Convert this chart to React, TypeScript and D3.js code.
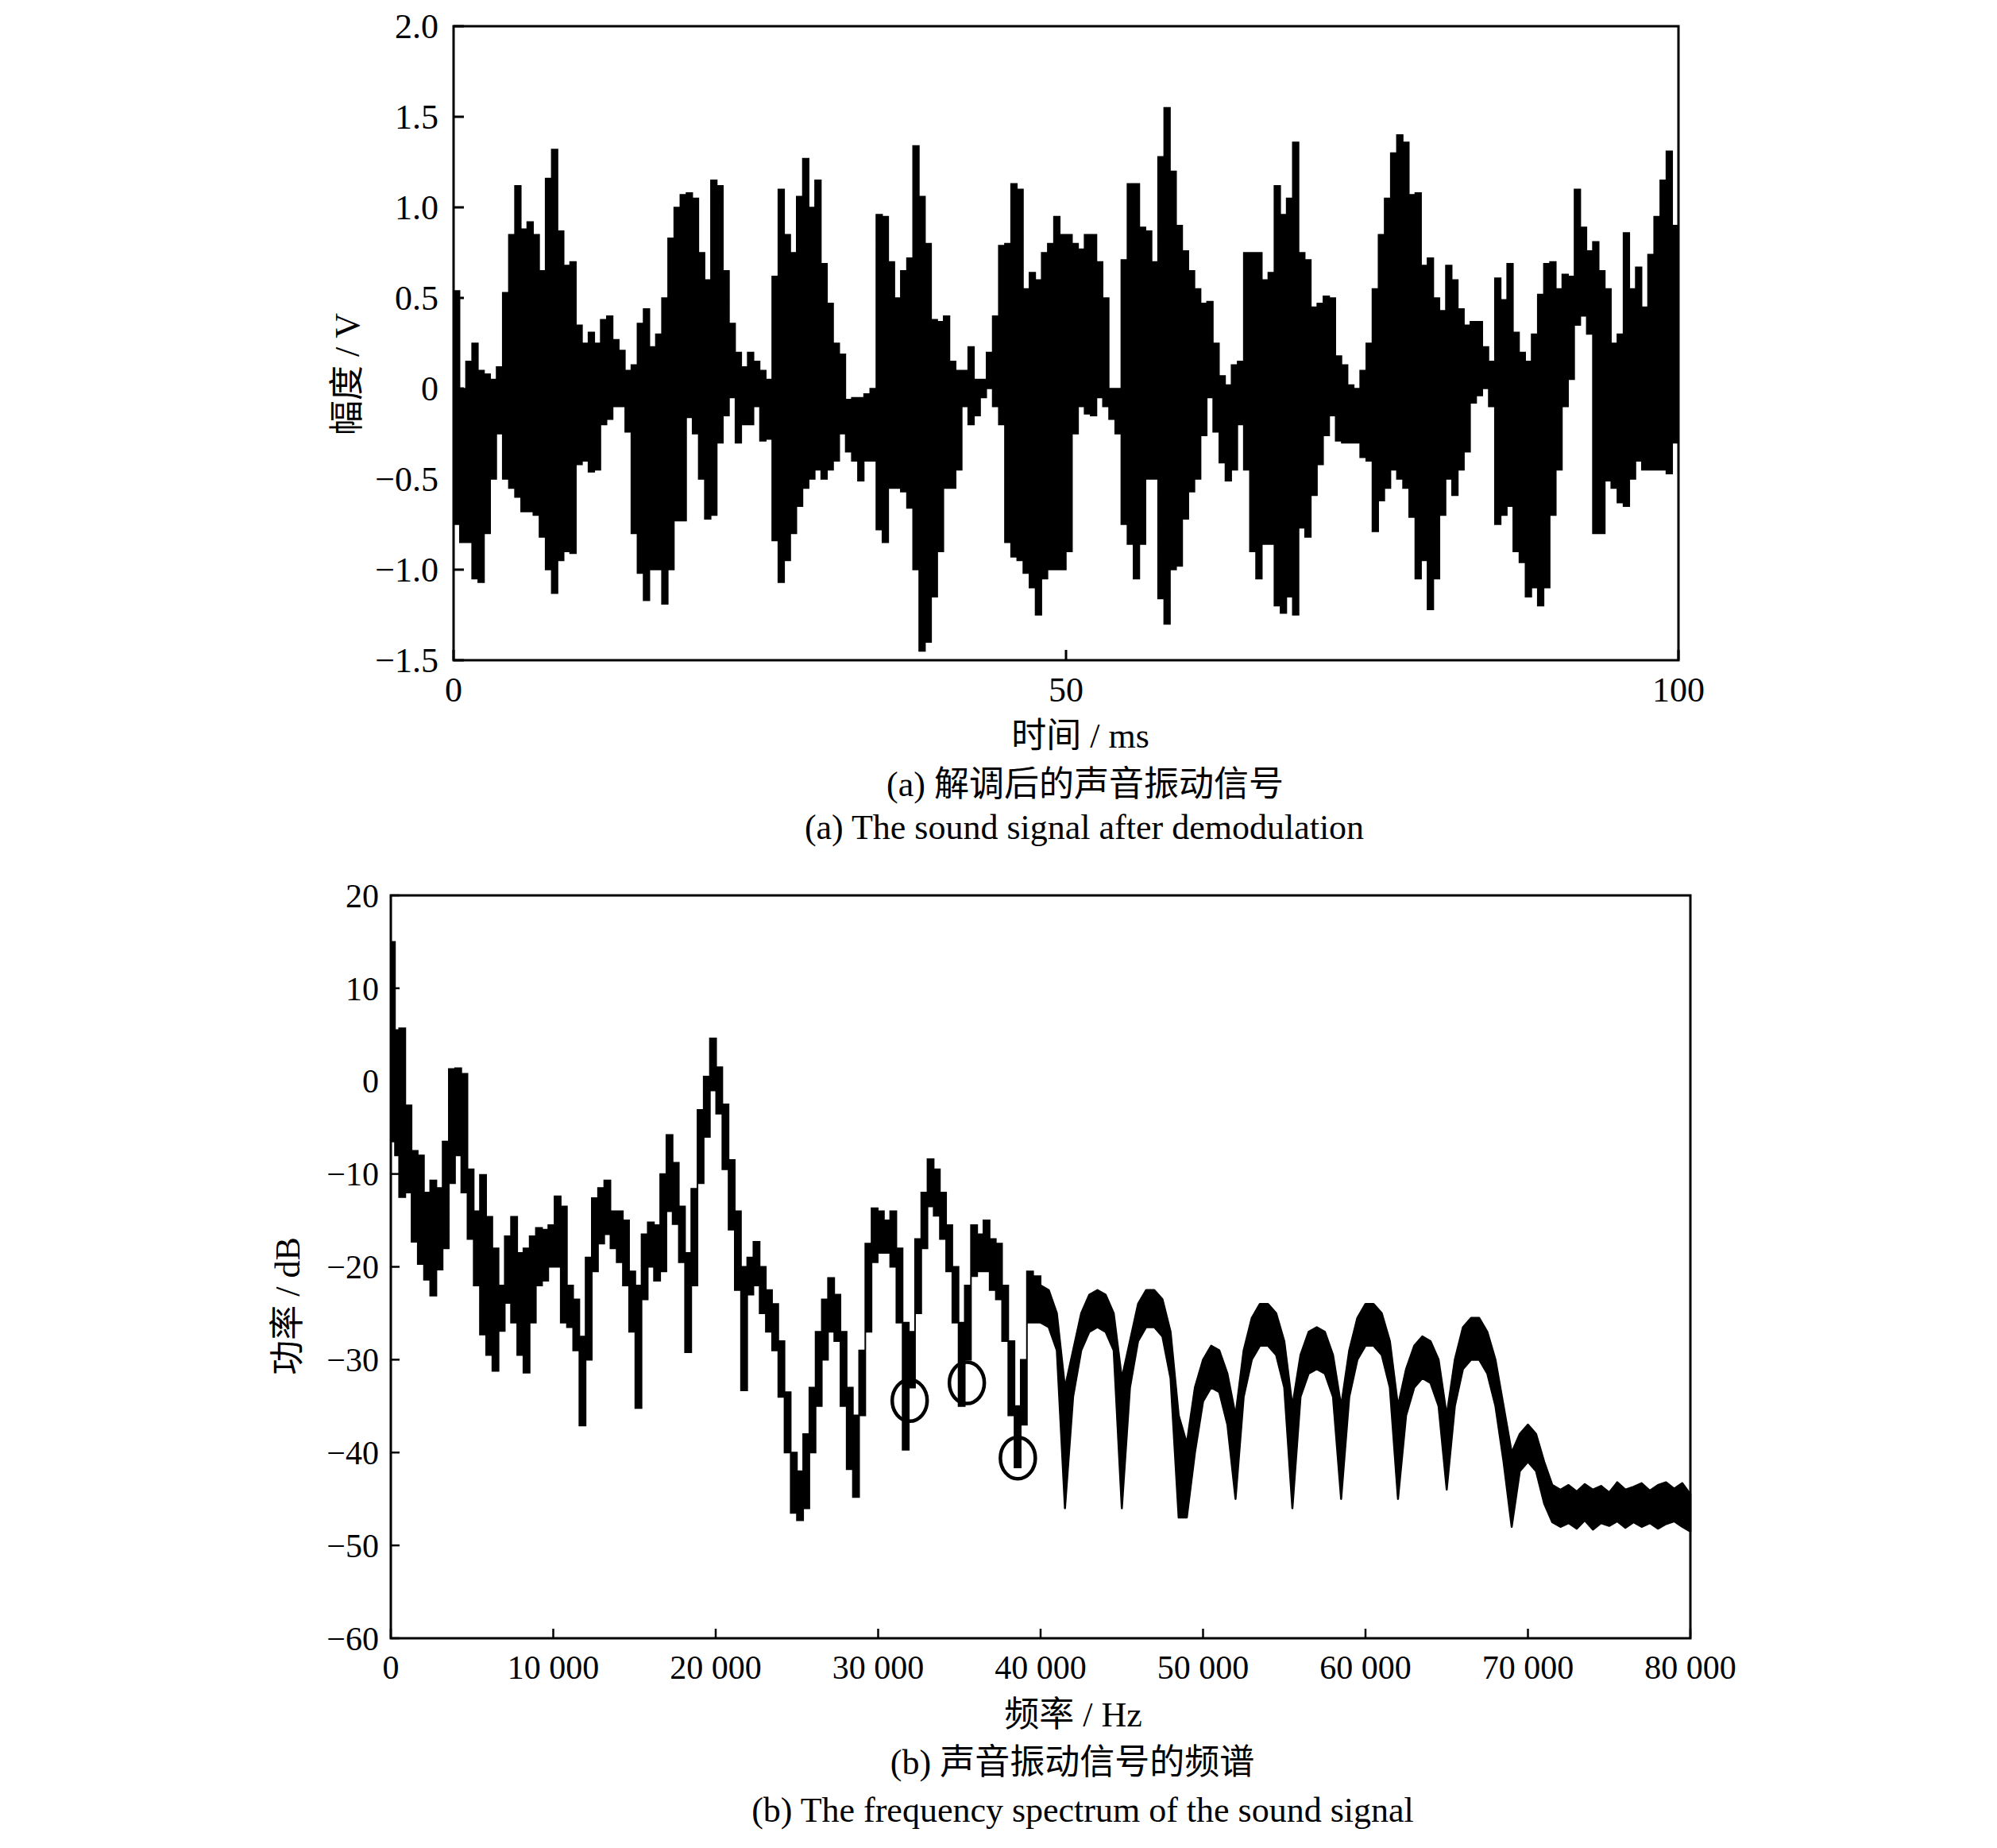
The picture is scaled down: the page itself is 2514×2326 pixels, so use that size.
import React from "react"
import * as d3 from "d3"

// (a) demodulated sound signal: upper / lower envelope per 0.5 ms bin, in V
const sigStepMs = 0.5
const sigHi = [
  0.54, 0.0, 0.15, 0.25, 0.1, 0.08, 0.05, 0.12, 0.53, 0.85,
  1.12, 0.88, 0.92, 0.85, 0.65, 1.16, 1.32, 0.87, 0.68, 0.7,
  0.35, 0.25, 0.31, 0.25, 0.38, 0.4, 0.27, 0.21, 0.1, 0.13,
  0.36, 0.44, 0.23, 0.3, 0.5, 0.83, 1.0, 1.07, 1.08, 1.05,
  0.75, 0.6, 1.15, 1.12, 0.65, 0.36, 0.2, 0.12, 0.2, 0.15,
  0.1, 0.05, 0.62, 1.1, 0.85, 0.75, 1.06, 1.27, 1.0, 1.15,
  0.69, 0.47, 0.25, 0.19, -0.06, -0.05, -0.05, -0.03, 0.0, 0.96,
  0.95, 0.7, 0.5, 0.65, 0.72, 1.34, 1.06, 0.8, 0.38, 0.37,
  0.4, 0.15, 0.1, 0.1, 0.23, 0.05, 0.05, 0.2, 0.4, 0.79,
  0.8, 1.13, 1.1, 0.55, 0.64, 0.6, 0.75, 0.8, 0.95, 0.85,
  0.85, 0.8, 0.77, 0.85, 0.85, 0.7, 0.5, 0.0, 0.0, 0.71,
  1.13, 1.13, 0.89, 0.87, 0.7, 1.28, 1.55, 1.2, 0.9, 0.76,
  0.65, 0.55, 0.47, 0.48, 0.25, 0.07, 0.02, 0.13, 0.15, 0.75,
  0.75, 0.75, 0.6, 0.64, 1.12, 0.96, 1.05, 1.36, 0.75, 0.71,
  0.45, 0.47, 0.51, 0.5, 0.18, 0.13, 0.02, 0.0, 0.1, 0.25,
  0.55, 0.85, 1.05, 1.3, 1.4, 1.36, 1.07, 1.08, 0.68, 0.72,
  0.5, 0.43, 0.68, 0.6, 0.44, 0.35, 0.37, 0.37, 0.23, 0.15,
  0.61, 0.49, 0.69, 0.31, 0.2, 0.15, 0.3, 0.52, 0.69, 0.7,
  0.55, 0.63, 0.62, 1.1, 0.89, 0.76, 0.81, 0.65, 0.55, 0.25,
  0.3, 0.86, 0.55, 0.67, 0.45, 0.74, 0.95, 1.15, 1.31, 0.9,
]
const sigLo = [
  -0.75, -0.85, -0.85, -1.05, -1.07, -0.8, -0.5, -0.25, -0.5, -0.55,
  -0.6, -0.68, -0.68, -0.7, -0.82, -1.0, -1.13, -0.95, -0.9, -0.91,
  -0.42, -0.4, -0.46, -0.45, -0.2, -0.17, -0.1, -0.1, -0.24, -0.8,
  -1.02, -1.17, -1.0, -1.0, -1.19, -1.0, -0.73, -0.73, -0.16, -0.25,
  -0.5, -0.72, -0.7, -0.3, -0.15, -0.05, -0.3, -0.2, -0.2, -0.1,
  -0.29, -0.28, -0.84, -1.07, -0.95, -0.8, -0.65, -0.55, -0.5, -0.45,
  -0.5, -0.45, -0.4, -0.25, -0.35, -0.4, -0.51, -0.4, -0.4, -0.78,
  -0.85, -0.55, -0.55, -0.57, -0.66, -1.0, -1.45, -1.4, -1.15, -0.9,
  -0.55, -0.55, -0.45, -0.1, -0.2, -0.15, -0.05, 0.0, -0.1, -0.2,
  -0.85, -0.93, -0.95, -1.02, -1.1, -1.25, -1.05, -1.0, -1.0, -1.0,
  -0.9, -0.25, -0.1, -0.14, -0.15, -0.05, -0.1, -0.17, -0.25, -0.75,
  -0.86, -1.05, -0.86, -0.5, -0.5, -1.16, -1.3, -1.0, -0.98, -0.72,
  -0.57, -0.5, -0.26, -0.05, -0.24, -0.41, -0.51, -0.45, -0.2, -0.45,
  -0.9, -1.05, -0.86, -0.86, -1.2, -1.24, -1.15, -1.25, -0.77, -0.82,
  -0.59, -0.42, -0.26, -0.15, -0.29, -0.3, -0.3, -0.3, -0.38, -0.4,
  -0.79, -0.62, -0.55, -0.45, -0.5, -0.55, -0.71, -1.05, -0.95, -1.22,
  -1.05, -0.7, -0.5, -0.59, -0.45, -0.35, -0.08, -0.04, 0.0, -0.1,
  -0.75, -0.7, -0.65, -0.9, -0.96, -1.15, -1.1, -1.2, -1.1, -0.7,
  -0.45, -0.1, 0.05, 0.35, 0.4, 0.3, -0.8, -0.8, -0.51, -0.55,
  -0.63, -0.65, -0.5, -0.4, -0.45, -0.45, -0.45, -0.45, -0.47, -0.3,
]

// (b) power spectrum: frequency (Hz), upper / lower edge of the trace (dB)
const specHz = [
  0, 255, 510, 893, 1276, 1658, 2041, 2423, 2806, 3189,
  3571, 3954, 4337, 4719, 5102, 5485, 5867, 6250, 6633, 7015,
  7398, 7781, 8163, 8546, 8929, 9311, 9694, 10077, 10459, 10842,
  11224, 11607, 11990, 12372, 12755, 13138, 13520, 13903, 14286, 14668,
  15051, 15434, 15816, 16199, 16582, 16964, 17347, 17730, 18112, 18495,
  18878, 19260, 19643, 20026, 20408, 20791, 21173, 21556, 21939, 22321,
  22704, 23087, 23469, 23852, 24235, 24617, 25000, 25383, 25765, 26148,
  26531, 26913, 27296, 27679, 28061, 28444, 28827, 29209, 29592, 29974,
  30357, 30740, 31122, 31505, 31888, 32270, 32653, 33036, 33418, 33801,
  34184, 34566, 34949, 35332, 35714, 36097, 36480, 36862, 37245, 37628,
  38010, 38393, 38776, 39158, 39541,
  40000, 40500, 41000, 41500, 42000, 42500, 43000, 43500, 44000, 44500,
  45000, 45500, 46000, 46500, 47000, 47500, 48000, 48500, 49000, 49500,
  50000, 50500, 51000, 51500, 52000, 52500, 53000, 53500, 54000, 54500,
  55000, 55500, 56000, 56500, 57000, 57500, 58000, 58500, 59000, 59500,
  60000, 60500, 61000, 61500, 62000, 62500, 63000, 63500, 64000, 64500,
  65000, 65500, 66000, 66500, 67000, 67500, 68000, 68500, 69000, 69500,
  70000, 70500, 71000, 71500, 72000, 72500, 73000, 73500, 74000, 74500,
  75000, 75500, 76000, 76500, 77000, 77500, 78000, 78500, 79000, 79500,
  80000,
]
const specHi = [
  15, 5.5, 5.7, -2.6, -7.5, -8, -12, -10.7, -11.5, -6.5,
  1.3, 1.4, 0.8, -9.5, -14, -10.1, -14.6, -18, -22, -16.7,
  -14.6, -18.5, -18, -16.7, -15.8, -16, -15.5, -12.4, -13.5, -22,
  -23.5, -27.5, -19, -12.6, -11.5, -10.7, -14, -14, -15, -20.5,
  -22, -16.5, -15.2, -15.5, -10, -5.8, -8.8, -13.5, -18.5, -11.6,
  -3.1, 0.5, 4.6, 1.5, -2.5, -8.5, -14, -20, -19, -17.3,
  -20, -22.5, -24, -28, -33.5, -40, -42, -38, -33, -27,
  -23.5, -21.2, -23, -27, -33, -36, -29, -17.5, -13.7, -14,
  -15, -14, -18, -26, -27, -17, -12, -8.4, -9.5, -12,
  -15.5, -20, -26, -22, -15.5, -16.5, -15, -17, -17.5, -22,
  -28, -35, -30, -20.5, -21,
  -22, -22.5, -25, -33, -29, -25, -23, -22.5, -23, -25,
  -32, -28, -24, -22.5, -22.5, -23.5, -27, -36, -39, -33,
  -30, -28.5, -29, -31.5, -36, -29, -25.5, -24, -24, -25,
  -28, -35, -29.5, -27, -26.5, -27, -29.5, -35, -29, -25.5,
  -24, -24, -25, -28, -35, -31, -28.5, -27.5, -28, -30,
  -36, -30, -26.5, -25.5, -25.5, -27, -30, -35, -40, -38,
  -37, -38, -41, -43.5, -44, -43.5, -44.2, -43.4, -44, -43.6,
  -44.3, -43.2, -44, -43.7, -43.3, -44.1, -43.5, -43.2, -43.9, -43.3,
  -44.5,
]
const specLo = [
  -6.5, -8, -12.5, -12, -17.3, -19.7, -21.4, -23.1, -20.3, -18,
  -11, -8, -12, -17, -22, -27.3, -29.5, -31.2, -26.9, -23.9,
  -26, -29.5, -31.4, -26, -22, -21.5, -20, -20, -26, -26.5,
  -29, -37.1, -30, -20.5, -17.5, -16.5, -18, -19.5, -22, -27,
  -35.2, -23.5, -20, -21.5, -20.5, -14, -15.4, -19.5, -29.2, -22,
  -11, -6, -1, -3.5, -9.5, -16, -22.5, -33.3, -23, -22,
  -25, -27, -29, -34, -40, -46.5, -47.3, -46, -40, -35,
  -30, -27, -28, -35, -41.8, -44.8, -36, -27, -19.5, -18.5,
  -18.5, -20, -26, -39.7, -33, -25, -18, -13.5, -14.5, -17,
  -20.5, -26, -35, -30, -21, -20.5, -20.5, -22.5, -23.5, -28,
  -36, -41.6, -37, -26, -26,
  -26, -26.5, -29, -46, -34, -29, -27, -26.5, -27, -29,
  -46, -33, -28, -26.5, -26.5, -27.5, -32, -47, -47, -40,
  -34.5, -33, -33.5, -37, -45, -34, -30, -28.5, -28.5, -29.5,
  -33, -46, -34, -31.5, -31, -31.5, -34, -45, -34, -30,
  -28.5, -28.5, -29.5, -33, -45, -36, -33, -32, -32.5, -35,
  -44, -35, -31, -30, -30, -31.5, -35, -41, -48, -42,
  -41, -42, -45.5, -47.5, -48, -47.6, -48.2, -47.3, -48.3, -47.6,
  -47.9, -47.4, -48.1, -47.5, -48, -47.6, -48.2, -47.7, -47.4, -48,
  -48.5,
]
// below this frequency the trace is drawn as steps (noisy part), above it as a smooth band
const specSplitHz = 40000

// circled notches in (b)
const markHz = [31940, 35460, 38600]
const markDb = [-34.4, -32.5, -40.6]

// axis ticks
const aXTicks = [0, 50, 100]
const aYTicks = [-1.5, -1, -0.5, 0, 0.5, 1, 1.5, 2]
const aYLabels = ["−1.5", "−1.0", "−0.5", "0", "0.5", "1.0", "1.5", "2.0"]
const bXTicks = [0, 10000, 20000, 30000, 40000, 50000, 60000, 70000, 80000]
const bXLabels = ["0", "10 000", "20 000", "30 000", "40 000", "50 000", "60 000", "70 000", "80 000"]
const bYTicks = [-60, -50, -40, -30, -20, -10, 0, 10, 20]
const bYLabels = ["−60", "−50", "−40", "−30", "−20", "−10", "0", "10", "20"]

const FONT = "'Liberation Serif', 'Times New Roman', 'Noto Sans CJK SC', serif"

interface Band {
  x: number
  hi: number
  lo: number
}

const W = 2514
const H = 2326

export default function App() {
  // panel (a)
  const ax = d3.scaleLinear().domain([0, 100]).range([571, 2113])
  const ay = d3.scaleLinear().domain([-1.5, 2]).range([831, 33])
  const sigBands: Band[] = sigHi.map((hi, i) => ({ x: i * sigStepMs, hi, lo: sigLo[i] }))
  sigBands.push({ x: 100, hi: sigHi[sigHi.length - 1], lo: sigLo[sigLo.length - 1] })
  const sigArea = d3
    .area<Band>()
    .curve(d3.curveStepAfter)
    .x((d) => ax(d.x))
    .y0((d) => ay(d.lo))
    .y1((d) => ay(d.hi))

  // panel (b)
  const bx = d3.scaleLinear().domain([0, 80000]).range([492, 2128])
  const by = d3.scaleLinear().domain([-60, 20]).range([2062, 1127])
  const specBands: Band[] = specHz.map((x, i) => ({ x, hi: specHi[i], lo: specLo[i] }))
  const noisy = specBands.filter((d) => d.x <= specSplitHz)
  const lobes = specBands.filter((d) => d.x >= specSplitHz)
  const specStep = d3
    .area<Band>()
    .curve(d3.curveStepAfter)
    .x((d) => bx(d.x))
    .y0((d) => by(d.lo))
    .y1((d) => by(d.hi))
  const specSmooth = d3
    .area<Band>()
    .x((d) => bx(d.x))
    .y0((d) => by(d.lo))
    .y1((d) => by(d.hi))

  const [ax0, ax1] = ax.range()
  const [ay0, ay1] = ay.range()
  const [bx0, bx1] = bx.range()
  const [by0, by1] = by.range()

  return (
    <svg
      width={W}
      height={H}
      viewBox={`0 0 ${W} ${H}`}
      style={{ position: "absolute", left: 0, top: 0, background: "#fff" }}
      fontFamily={FONT}
      fill="#000"
    >
      <rect width={W} height={H} fill="#fff" />

      {/* ---------- (a) ---------- */}
      <path d={sigArea(sigBands) ?? ""} fill="#000" stroke="#000" strokeWidth={1.5} />
      <rect x={ax0} y={ay1} width={ax1 - ax0} height={ay0 - ay1} fill="none" stroke="#000" strokeWidth={3} />
      {aYTicks.map((t, i) => (
        <g key={`ay${t}`}>
          <line x1={ax0} x2={ax0 + 13} y1={ay(t)} y2={ay(t)} stroke="#000" strokeWidth={3} />
          <text x={552} y={ay(t)} dy="0.35em" textAnchor="end" fontSize={44}>
            {aYLabels[i]}
          </text>
        </g>
      ))}
      {aXTicks.map((t) => (
        <g key={`ax${t}`}>
          <line x1={ax(t)} x2={ax(t)} y1={ay0} y2={ay0 - 13} stroke="#000" strokeWidth={3} />
          <text x={ax(t)} y={883} textAnchor="middle" fontSize={44}>
            {t}
          </text>
        </g>
      ))}
      <text x={1360} y={941} textAnchor="middle" fontSize={44}>
        时间 / ms
      </text>
      <text transform="translate(452,471) rotate(-90)" textAnchor="middle" fontSize={44}>
        幅度 / V
      </text>
      <text x={1366} y={1002} textAnchor="middle" fontSize={44}>
        (a) 解调后的声音振动信号
      </text>
      <text x={1365} y={1056} textAnchor="middle" fontSize={44}>
        (a) The sound signal after demodulation
      </text>

      {/* ---------- (b) ---------- */}
      <path d={specStep(noisy) ?? ""} fill="#000" stroke="#000" strokeWidth={2} />
      <path d={specSmooth(lobes) ?? ""} fill="#000" stroke="#000" strokeWidth={2.5} strokeLinejoin="round" />
      {markHz.map((f, i) => (
        <ellipse key={`m${f}`} cx={bx(f)} cy={by(markDb[i])} rx={22} ry={26} fill="none" stroke="#000" strokeWidth={4.5} />
      ))}
      <rect x={bx0} y={by1} width={bx1 - bx0} height={by0 - by1} fill="none" stroke="#000" strokeWidth={3} />
      {bYTicks.map((t, i) => (
        <g key={`by${t}`}>
          <line x1={bx0} x2={bx0 + 11} y1={by(t)} y2={by(t)} stroke="#000" strokeWidth={2.5} />
          <text x={477} y={by(t)} dy="0.35em" textAnchor="end" fontSize={42}>
            {bYLabels[i]}
          </text>
        </g>
      ))}
      {bXTicks.map((t, i) => (
        <g key={`bx${t}`}>
          <line x1={bx(t)} x2={bx(t)} y1={by0} y2={by0 - 12} stroke="#000" strokeWidth={2.5} />
          <text x={bx(t)} y={2113} textAnchor="middle" fontSize={42}>
            {bXLabels[i]}
          </text>
        </g>
      ))}
      <text x={1351} y={2173} textAnchor="middle" fontSize={44}>
        频率 / Hz
      </text>
      <text transform="translate(377,1644) rotate(-90)" textAnchor="middle" fontSize={44}>
        功率 / dB
      </text>
      <text x={1350} y={2233} textAnchor="middle" fontSize={44}>
        (b) 声音振动信号的频谱
      </text>
      <text x={1363} y={2293} textAnchor="middle" fontSize={44}>
        (b) The frequency spectrum of the sound signal
      </text>
    </svg>
  )
}
